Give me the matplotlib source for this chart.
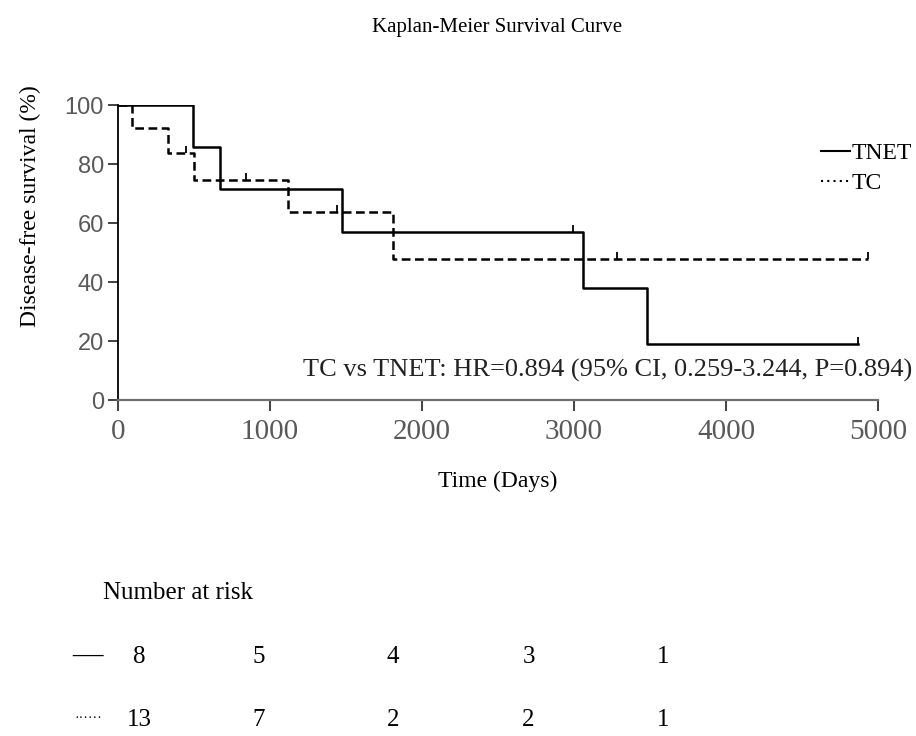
import matplotlib
matplotlib.use("Agg")
import matplotlib.pyplot as plt
from matplotlib.lines import Line2D

plt.rcParams['font.family'] = ['Liberation Serif', 'DejaVu Serif']

# TNET group (solid)
tnet_time = [0, 496, 671, 1471, 3057, 3478, 4866]
tnet_surv = [100, 85.7, 71.4, 57.1, 38.1, 19.0, 19.0]
tnet_cens_time = [2991, 4866]
tnet_cens_surv = [57.1, 19.0]

# TC group (dashed)
tc_time = [0, 90, 330, 502, 1118, 1811, 4936]
tc_surv = [100, 92.3, 83.9, 74.6, 63.9, 47.9, 47.9]
tc_cens_time = [447, 840, 1439, 3281, 4936]
tc_cens_surv = [83.9, 74.6, 63.9, 47.9, 47.9]

# number at risk
risk_tnet = ['8', '5', '4', '3', '1']
risk_tc = ['13', '7', '2', '2', '1']
risk_x = [0.152, 0.282, 0.429, 0.577, 0.724]  # figure coords of columns

hr_text = 'TC vs TNET: HR=0.894 (95% CI, 0.259-3.244, P=0.894)'

fig = plt.figure(figsize=(9.16, 7.36), dpi=100)
ax = fig.add_axes([0.1288, 0.4565, 0.8297, 0.4008])

ax.step(tnet_time, tnet_surv, where='post', color='black', lw=1.8)
ax.step(tc_time, tc_surv, where='post', color='black', lw=1.8, ls=(0, (3.5, 1.8)))
ax.plot(tnet_cens_time, tnet_cens_surv, ls='none', marker=2, color='black', ms=5, mew=1.3)
ax.plot(tc_cens_time, tc_cens_surv, ls='none', marker=2, color='black', ms=5, mew=1.3)

ax.set_xlim(0, 5000)
ax.set_ylim(0, 100)
ax.set_xticks(range(0, 5001, 1000))
ax.set_yticks(range(0, 101, 20))
for s in ['top', 'right']:
    ax.spines[s].set_visible(False)
ax.spines['left'].set_color('black')
ax.spines['left'].set_linewidth(1.3)
ax.spines['bottom'].set_color('#707070')
ax.spines['bottom'].set_linewidth(1.6)
ax.tick_params(axis='x', direction='out', length=8, width=1.3, color='#333333',
               labelsize=21, labelcolor='#595959', pad=6)
ax.tick_params(axis='y', direction='out', length=7, width=1.3, color='#333333',
               labelsize=17, labelcolor='#595959', pad=3)
for lab in ax.get_yticklabels():
    lab.set_family('Liberation Sans')

ax.set_xlabel('Time (Days)', fontsize=17, labelpad=18)
fig.text(0.033, 0.72, 'Disease-free survival (%)', rotation=90, fontsize=17,
         ha='center', va='center')
fig.text(0.543, 0.963, 'Kaplan-Meier Survival Curve', fontsize=15, ha='center', va='center')

ax.text(1.045, 0.10, hr_text, transform=ax.transAxes, fontsize=19, ha='right',
        va='center', clip_on=False, color='#222222')

handles = [Line2D([], [], color='black', lw=1.5),
           Line2D([], [], color='black', lw=1.5, ls=(0, (1, 2)))]
ax.legend(handles, ['TNET', 'TC'], loc='upper left', bbox_to_anchor=(0.913, 0.905),
          frameon=False, fontsize=17, handlelength=1.2, handletextpad=0.1,
          labelspacing=0.35, borderaxespad=0)

fig.text(0.112, 0.194, 'Number at risk', fontsize=18, va='center')
fig.text(0.096, 0.109, '\u2014', fontsize=22, ha='center', va='center')
fig.text(0.096, 0.024, '\u00b7\u00b7\u00b7\u00b7\u00b7\u00b7', fontsize=10, ha='center', va='center')
for xp, a, b in zip(risk_x, risk_tnet, risk_tc):
    fig.text(xp, 0.107, a, fontsize=18, ha='center', va='center')
    fig.text(xp, 0.022, b, fontsize=18, ha='center', va='center')

fig.savefig('out.png', dpi=100, facecolor='white')
